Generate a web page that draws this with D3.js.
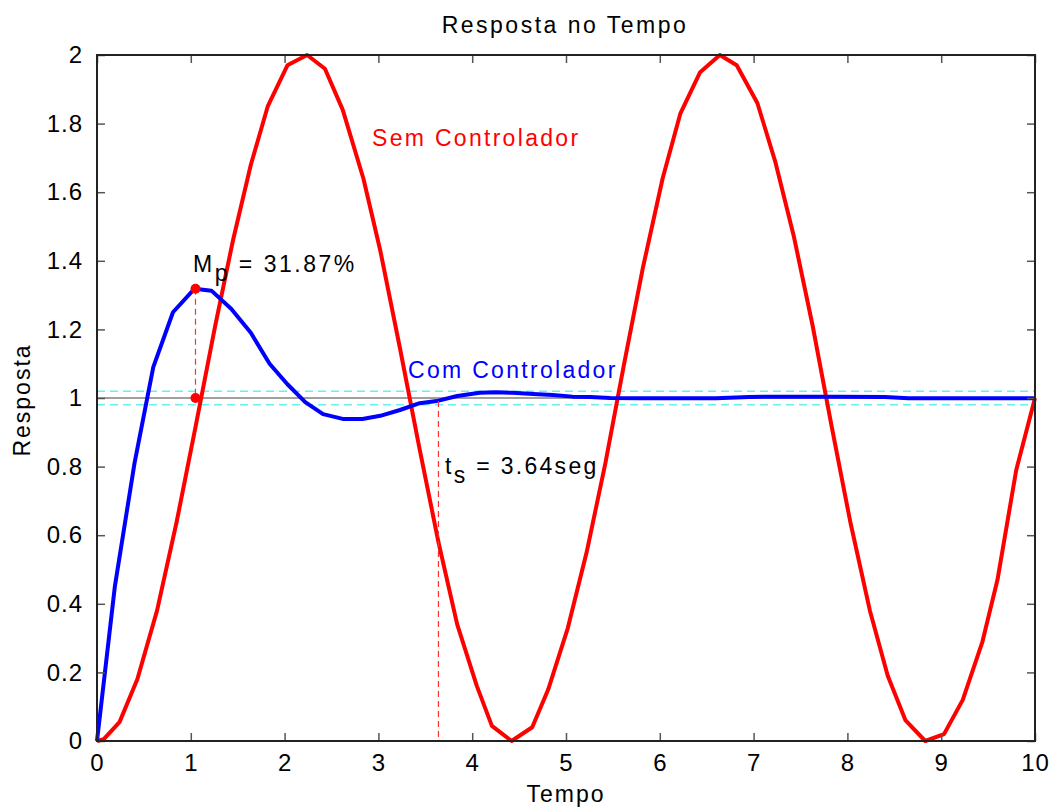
<!DOCTYPE html>
<html><head><meta charset="utf-8">
<script src="https://cdn.jsdelivr.net/npm/d3@7"></script>
<style>body{margin:0;background:#fff;} text{font-family:"Liberation Sans",Arial,sans-serif;}</style>
</head><body>
<svg id="chart" width="1051" height="809"></svg>
<script>
// Data
const semT = [0,0.07,0.24,0.43,0.64,0.85,1.05,1.26,1.45,1.64,1.82,2.03,2.24,2.43,2.62,2.84,3.02,3.23,3.44,3.64,3.84,4.05,4.21,4.42,4.64,4.81,5.02,5.22,5.42,5.62,5.82,6.03,6.22,6.43,6.64,6.82,7.04,7.23,7.43,7.63,7.83,8.03,8.24,8.43,8.62,8.83,9.03,9.23,9.44,9.6,9.8,10];
const semY = [0,0.005,0.055,0.18,0.38,0.64,0.915,1.21,1.46,1.68,1.85,1.97,2.0,1.96,1.84,1.64,1.43,1.145,0.85,0.58,0.34,0.16,0.044,0,0.04,0.15,0.33,0.55,0.81,1.10,1.38,1.64,1.83,1.95,2.0,1.97,1.86,1.69,1.47,1.21,0.92,0.64,0.38,0.19,0.06,0,0.02,0.12,0.29,0.47,0.79,1.0];
const comT = [0,0.19,0.40,0.60,0.81,1.04,1.22,1.43,1.64,1.84,2.03,2.22,2.41,2.62,2.83,3.02,3.23,3.44,3.62,3.84,4.08,4.26,4.43,4.65,4.86,5.07,5.26,5.47,5.79,6.2,6.6,6.95,7.4,7.9,8.4,8.65,9.2,10];
const comY = [0,0.45,0.81,1.09,1.25,1.3187,1.313,1.26,1.19,1.10,1.04,0.988,0.953,0.939,0.939,0.948,0.965,0.985,0.991,1.006,1.015,1.017,1.015,1.012,1.009,1.004,1.003,1.0,0.999,0.999,0.999,1.003,1.004,1.004,1.003,0.999,0.999,0.999];
const xTicks = [0,1,2,3,4,5,6,7,8,9,10];
const yTicks = [0,0.2,0.4,0.6,0.8,1,1.2,1.4,1.6,1.8,2];
const peakT = 1.05, peakY = 1.3187, settleT = 3.64, settleY = 0.991;
const bandHi = 1.02, bandLo = 0.98, refY = 1;

const svg = d3.select("#chart");
const L = 97, R = 1035, T = 55, B = 741;
const x = d3.scaleLinear().domain([0,10]).range([L,R]);
const y = d3.scaleLinear().domain([0,2]).range([B,T]);

const g = svg.append("g");
// reference lines
g.append("line").attr("x1",L).attr("x2",R).attr("y1",y(refY)).attr("y2",y(refY)).attr("stroke","#404040").attr("stroke-width",1);
[bandHi,bandLo].forEach(v=>g.append("line").attr("x1",L).attr("x2",R).attr("y1",y(v)).attr("y2",y(v))
  .attr("stroke","#66f0f0").attr("stroke-width",1.5).attr("stroke-dasharray","8,5"));

const line = d3.line().x(d=>x(d[0])).y(d=>y(d[1]));
g.append("path").datum(semT.map((t,i)=>[t,semY[i]])).attr("d",line).attr("fill","none").attr("stroke","#ff0000").attr("stroke-width",4).attr("stroke-linejoin","round");
g.append("path").datum(comT.map((t,i)=>[t,comY[i]])).attr("d",line).attr("fill","none").attr("stroke","#0000ff").attr("stroke-width",4).attr("stroke-linejoin","round");

// annotations
g.append("line").attr("x1",x(peakT)).attr("x2",x(peakT)).attr("y1",y(peakY)).attr("y2",y(refY)).attr("stroke","#ff3030").attr("stroke-width",1.2).attr("stroke-dasharray","6,4");
g.append("line").attr("x1",x(settleT)).attr("x2",x(settleT)).attr("y1",y(settleY)).attr("y2",y(0)).attr("stroke","#ff3030").attr("stroke-width",1.2).attr("stroke-dasharray","6,4");
[[peakT,peakY],[peakT,refY]].forEach(p=>g.append("circle").attr("cx",x(p[0])).attr("cy",y(p[1])).attr("r",5).attr("fill","#ff0000"));

// axes (MATLAB box style with inward ticks)
const axB = d3.axisBottom(x).tickValues(xTicks).tickSize(-8).tickPadding(13).tickFormat(d3.format("d"));
const axL = d3.axisLeft(y).tickValues(yTicks).tickSize(-8).tickPadding(14).tickFormat(d=>d===0||d===1||d===2?String(d):d3.format(".1f")(d));
const axT = d3.axisTop(x).tickValues(xTicks).tickSize(-8).tickFormat("");
const axR = d3.axisRight(y).tickValues(yTicks).tickSize(-8).tickFormat("");
[[axB,`translate(0,${B})`],[axL,`translate(${L},0)`],[axT,`translate(0,${T})`],[axR,`translate(${R},0)`]].forEach(([a,tr])=>{
  const ax = svg.append("g").attr("transform",tr).call(a);
  ax.select(".domain").remove();
  ax.selectAll(".tick line").attr("stroke","#555").attr("stroke-width",1.5);
  ax.selectAll("text").attr("font-size",24).attr("letter-spacing",1).attr("fill","#000").attr("font-family","Liberation Sans, Arial, sans-serif");
});
svg.append("rect").attr("x",L).attr("y",T).attr("width",R-L).attr("height",B-T).attr("fill","none").attr("stroke","#222").attr("stroke-width",2);

// texts
const txt = (xx,yy,s,col)=>svg.append("text").attr("x",xx).attr("y",yy).attr("font-size",23).attr("letter-spacing",2).attr("fill",col||"#000").text(s);
txt(565,33,"Resposta no Tempo").attr("text-anchor","middle").attr("letter-spacing",2.5);
txt(566,802,"Tempo").attr("text-anchor","middle");
svg.append("text").attr("transform","translate(30,400) rotate(-90)").attr("text-anchor","middle").attr("font-size",23).attr("letter-spacing",2).text("Resposta");
txt(372,146,"Sem Controlador","#ff0000").attr("letter-spacing",2.3);
txt(408,378,"Com Controlador","#0000ff").attr("letter-spacing",2.3);
const mp = svg.append("text").attr("x",193).attr("y",272).attr("font-size",23).attr("letter-spacing",2.5).attr("fill","#000");
mp.append("tspan").text("M");
mp.append("tspan").attr("dy",9).text("p");
mp.append("tspan").attr("dy",-9).text(" = 31.87%");
const ts = svg.append("text").attr("x",445).attr("y",474).attr("font-size",23).attr("letter-spacing",2.3).attr("fill","#000");
ts.append("tspan").text("t");
ts.append("tspan").attr("dy",9).text("s");
ts.append("tspan").attr("dy",-9).text(" = 3.64seg");
</script>
</body></html>
